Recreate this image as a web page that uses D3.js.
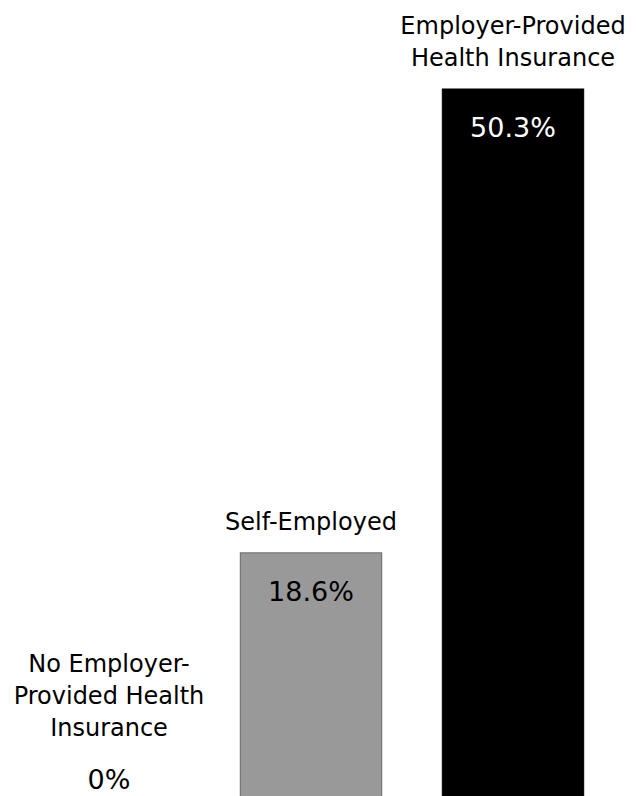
<!DOCTYPE html>
<html>
<head>
<meta charset="utf-8">
<script src="https://cdn.jsdelivr.net/npm/d3@7"></script>
<style>
  html, body { margin: 0; padding: 0; background: #fff; overflow: hidden; }
  svg { display: block; font-family: "DejaVu Sans", sans-serif; }
</style>
</head>
<body>
<svg id="chart"></svg>
<script>
const width = 637;
const height = 796;

// chart data
const categories = ["No Employer-Provided Health Insurance", "Self-Employed", "Employer-Provided Health Insurance"];
const labelLines = [
  ["No Employer-", "Provided Health", "Insurance"],
  ["Self-Employed"],
  ["Employer-Provided", "Health Insurance"]
];
const values = [0, 18.6, 50.3];
const valueLabels = ["0%", "18.6%", "50.3%"];

const fills = ["#999999", "#999999", "#000000"];
const strokes = ["#666666", "#666666", "#000000"];
const textFills = ["#000", "#000", "#fff"];

const svg = d3.select("#chart")
  .attr("width", width)
  .attr("height", height);

const x = d3.scaleBand()
  .domain(categories)
  .range([8, 614])
  .paddingInner(0.3)
  .paddingOuter(0.15);

// baseline sits just under the visible area, as in the cropped original
const y = d3.scaleLinear()
  .domain([0, 50.3])
  .range([825, 89]);

const rows = categories.map((c, i) => ({
  cat: c, value: values[i], label: valueLabels[i], lines: labelLines[i], i: i
}));

svg.append("g")
  .selectAll("rect")
  .data(rows.filter(d => d.value > 0))
  .enter()
  .append("rect")
  .attr("x", d => x(d.cat))
  .attr("y", d => y(d.value))
  .attr("width", x.bandwidth())
  .attr("height", d => y(0) - y(d.value))
  .style("fill", d => fills[d.i])
  .style("stroke", d => strokes[d.i])
  .style("stroke-width", 1);

// value labels: inside the bar top, or above the baseline for zero
const valueY = d => d.value > 0 ? y(d.value) + 48 : y(0) - 36;

svg.append("g")
  .selectAll("text")
  .data(rows)
  .enter()
  .append("text")
  .attr("x", d => x(d.cat) + x.bandwidth() / 2)
  .attr("y", valueY)
  .attr("text-anchor", "middle")
  .style("font-size", "27px")
  .style("fill", d => d.value > 0 ? textFills[d.i] : "#000")
  .text(d => d.label);

// category labels above
const lineH = 32;
const cats = svg.append("g")
  .selectAll("text")
  .data(rows)
  .enter()
  .append("text")
  .attr("text-anchor", "middle")
  .style("font-size", "24px")
  .style("fill", "#000");

cats.each(function(d) {
  const last = d.value > 0 ? y(d.value) - 23 : valueY(d) - 53;
  const first = last - (d.lines.length - 1) * lineH;
  d3.select(this)
    .selectAll("tspan")
    .data(d.lines)
    .enter()
    .append("tspan")
    .attr("x", x(d.cat) + x.bandwidth() / 2)
    .attr("y", (l, j) => first + j * lineH)
    .text(l => l);
});
</script>
</body>
</html>
